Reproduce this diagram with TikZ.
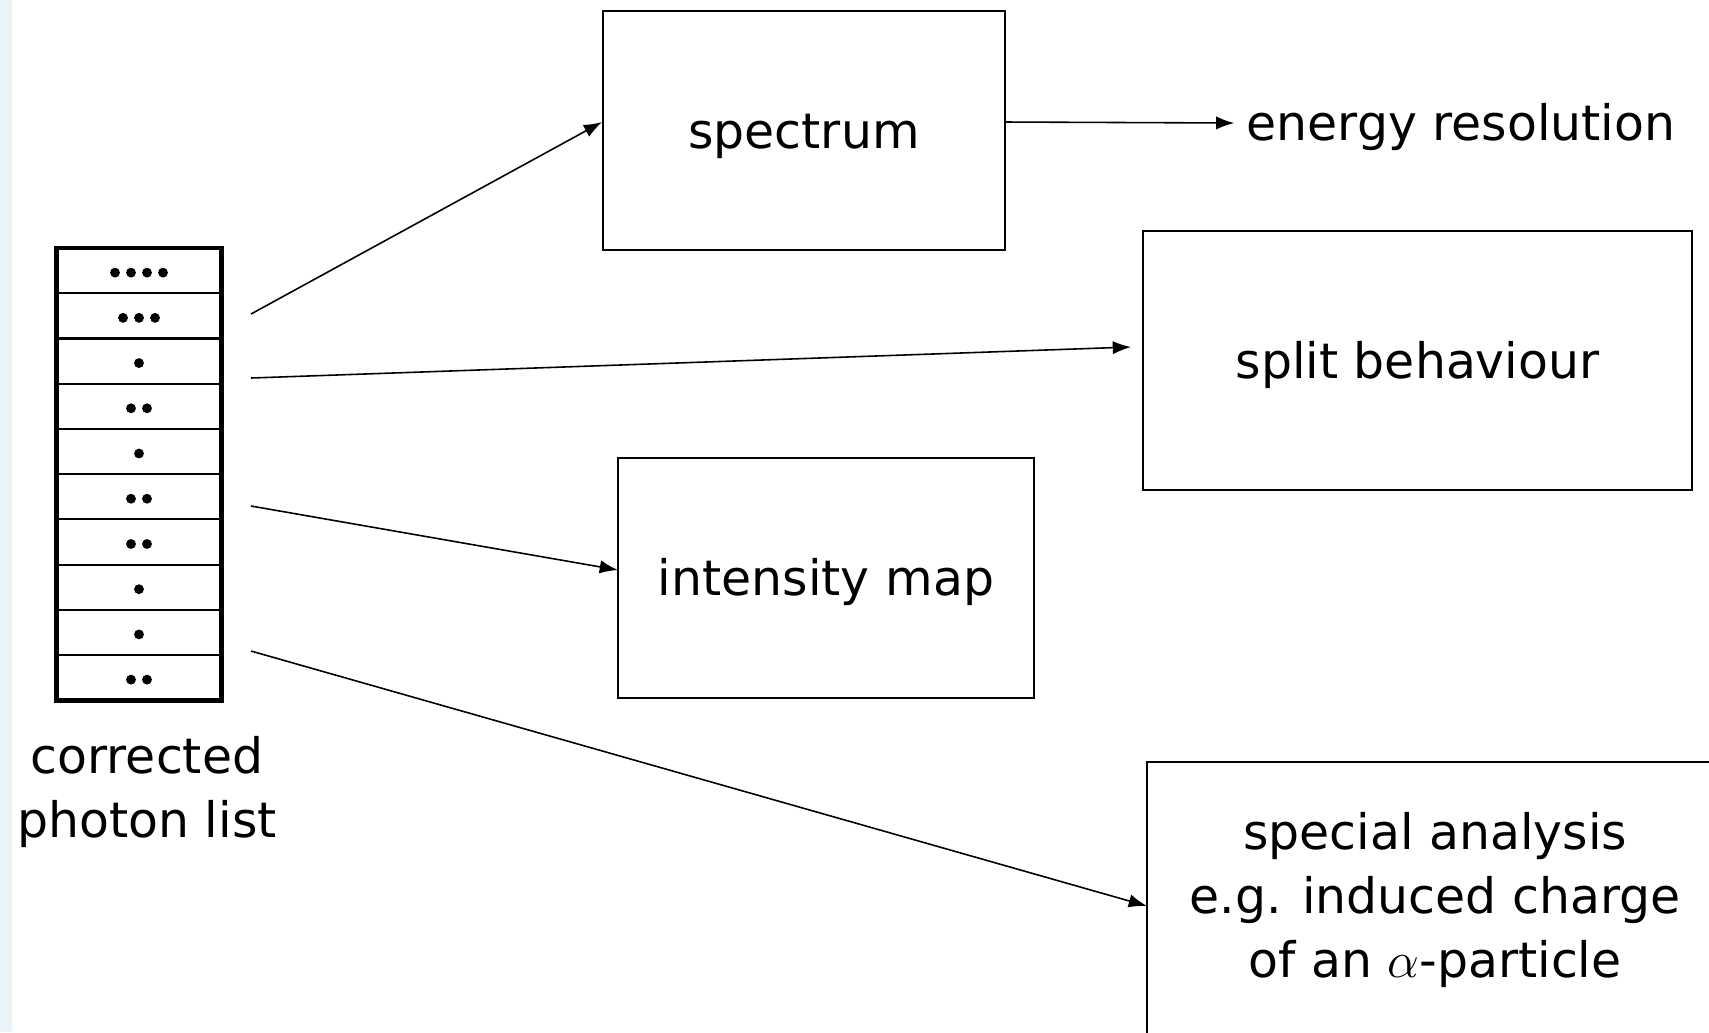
\documentclass[tikz,border=0pt]{standalone}
\usepackage{fontspec}
\setmainfont{DejaVu Sans}
\usepackage{xcolor}
\usepackage{tikz}
\usetikzlibrary{positioning,arrows.meta,calc}
\definecolor{stripblue}{HTML}{EAF4F8}

\begin{document}
\begin{tikzpicture}[x=0.01cm, y=-0.01cm, font=\fontsize{13.9}{18.2}\selectfont,
        box/.style={draw, line width=0.45pt, align=center, inner sep=0pt},
        lowtext/.style={text height=11pt, text depth=1pt},
        cell/.style={draw, line width=0.6pt, minimum width=1.64cm, minimum height=0.452cm, inner sep=0pt, outer sep=0pt},
        link/.style={-{Latex[length=5.2pt,width=3.8pt]}, line width=0.45pt}]
        \useasboundingbox (0,0) rectangle (1709,1032);
        \clip (0,0) rectangle (1709,1032);
        \fill[stripblue] (0,0) rectangle (12,1032);

        % photon list
        \node[cell] (c1) at (139,270.6) {};
        \node[cell] (c2) [below=0pt of c1] {};
        \node[cell] (c3) [below=0pt of c2] {};
        \node[cell] (c4) [below=0pt of c3] {};
        \node[cell] (c5) [below=0pt of c4] {};
        \node[cell] (c6) [below=0pt of c5] {};
        \node[cell] (c7) [below=0pt of c6] {};
        \node[cell] (c8) [below=0pt of c7] {};
        \node[cell] (c9) [below=0pt of c8] {};
        \node[cell] (c10) [below=0pt of c9] {};
        \draw[line width=1.4pt] (c1.north west) rectangle (c10.south east);
        \foreach \r/\n in {1/4,2/3,3/1,4/2,5/1,6/2,7/2,8/1,9/1,10/2}
            \foreach \k in {1,...,\n}
                \fill ($(c\r.center)+({(\k-(\n+1)/2)*16},2)$) circle[radius=1.4pt];
        \node[align=center] (cpl) at (147,792) {corrected\\photon list};

        % results
        \node[box, lowtext, minimum width=4.02cm, minimum height=2.39cm] (spec) at (804,130.5) {spectrum};
        \node[lowtext] (en) at (1461,123) {energy resolution};
        \node[box, lowtext, minimum width=5.49cm, minimum height=2.59cm] (split) at (1417.5,360.5) {split behaviour};
        \node[box, lowtext, minimum width=4.16cm, minimum height=2.40cm] (map) at (826,578) {intensity map};
        \node[box, minimum width=5.76cm, minimum height=2.76cm] (spa) at (1435,900) {special analysis\\e.g. induced charge\\of an $\alpha$-particle};

        \coordinate (s1) at (251,314);
        \coordinate (s2) at (251,378);
        \coordinate (s3) at (251,506);
        \coordinate (s4) at (251,651);
        \coordinate (t2) at (1131,347);
        \coordinate (t3) at (618,570);
        \coordinate (t4) at (1147,906);

        \path
        (s1) edge [link] (spec.west |- 0,122)
        (s2) edge [link] (t2)
        (s3) edge [link] (t3)
        (s4) edge [link] (t4)
        (spec.east |- 0,122) edge [link] (en.west);
    \end{tikzpicture}
\end{document}
